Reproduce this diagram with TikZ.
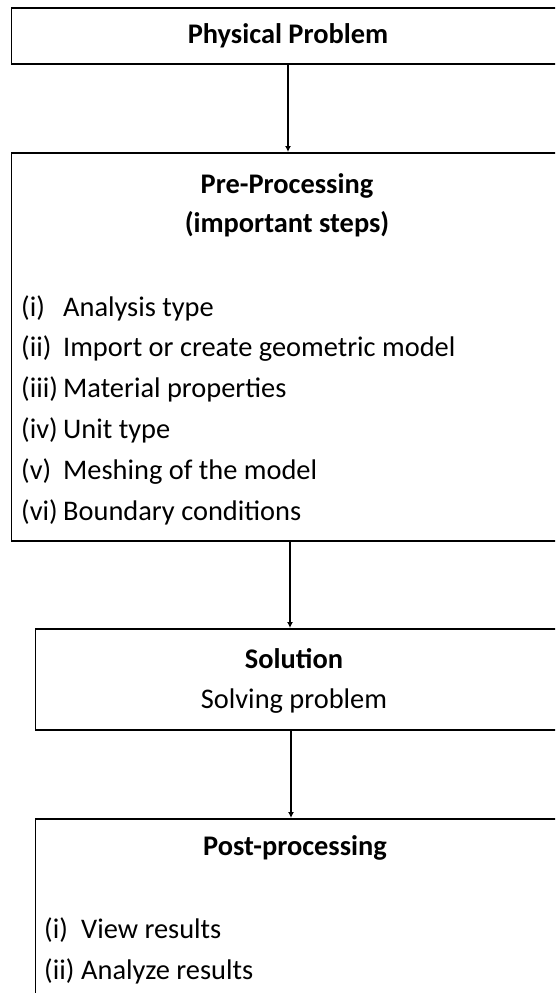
\documentclass[tikz,border=0pt]{standalone}
\usepackage{fontspec}
\setmainfont{Carlito}
\usetikzlibrary{arrows.meta,positioning}

\tikzset{
  box/.style={draw, line width=1.8pt, rectangle, anchor=north west,
    minimum width=600pt, inner sep=0pt},
  head/.style={font=\fontsize{28.4}{34}\selectfont\bfseries, anchor=base, inner sep=0pt},
  plain/.style={font=\fontsize{28.4}{34}\selectfont, anchor=base, inner sep=0pt},
  item/.style={font=\fontsize{28.4}{34}\selectfont, anchor=base west, inner sep=0pt},
  flow/.style={line width=1.2pt, -{Latex[length=6pt, width=6pt]}}
}

\begin{document}
\begin{tikzpicture}[x=1pt, y=-1pt]
  \useasboundingbox (0,0) rectangle (555,993);
  \clip (0,0) rectangle (555,993);

  % boxes
  \node[box, minimum height=56pt]  (phys) at (10.6,7.3) {};
  \node[box, minimum height=388pt] (pre)  at (10.6,152) {};
  \node[box, minimum height=101pt] (sol)  at (34.5,628) {};
  \node[box, minimum height=250pt] (post) at (34.5,818) {};

  % physical problem
  \node[head] (phystext) at (288,43) {Physical Problem};

  % pre-processing
  \node[head] (pretitle) at (287,193) {Pre-Processing};
  \node[head] (presub)   at (287,232) {(important steps)};
  \foreach \lab/\txt [count=\k] in
    {(i)/Analysis type, (ii)/Import or create geometric model,
     (iii)/Material properties, (iv)/Unit type,
     (v)/Meshing of the model, (vi)/Boundary conditions}
  {
    \node[item] (pre\k) at (21,{316+40.8*(\k-1)}) {\makebox[42pt][l]{\lab}\txt};
  }

  % solution
  \node[head]  (soltitle) at (294,668) {Solution};
  \node[plain] (soltext)  at (294,708) {Solving problem};

  % post-processing
  \node[head] (posttitle) at (295,855) {Post-processing};
  \node[item] (post1) at (44,938) {\makebox[37pt][l]{(i)}View results};
  \node[item] (post2) at (44,979) {\makebox[37pt][l]{(ii)}Analyze results};

  % arrows
  \draw[flow] (phys.south -| phystext) -- (pre.north -| phystext);
  \draw[flow] (pre.south -| 290,0) -- (sol.north -| 290,0);
  \draw[flow] (sol.south -| 291,0) -- (post.north -| 291,0);
\end{tikzpicture}
\end{document}
